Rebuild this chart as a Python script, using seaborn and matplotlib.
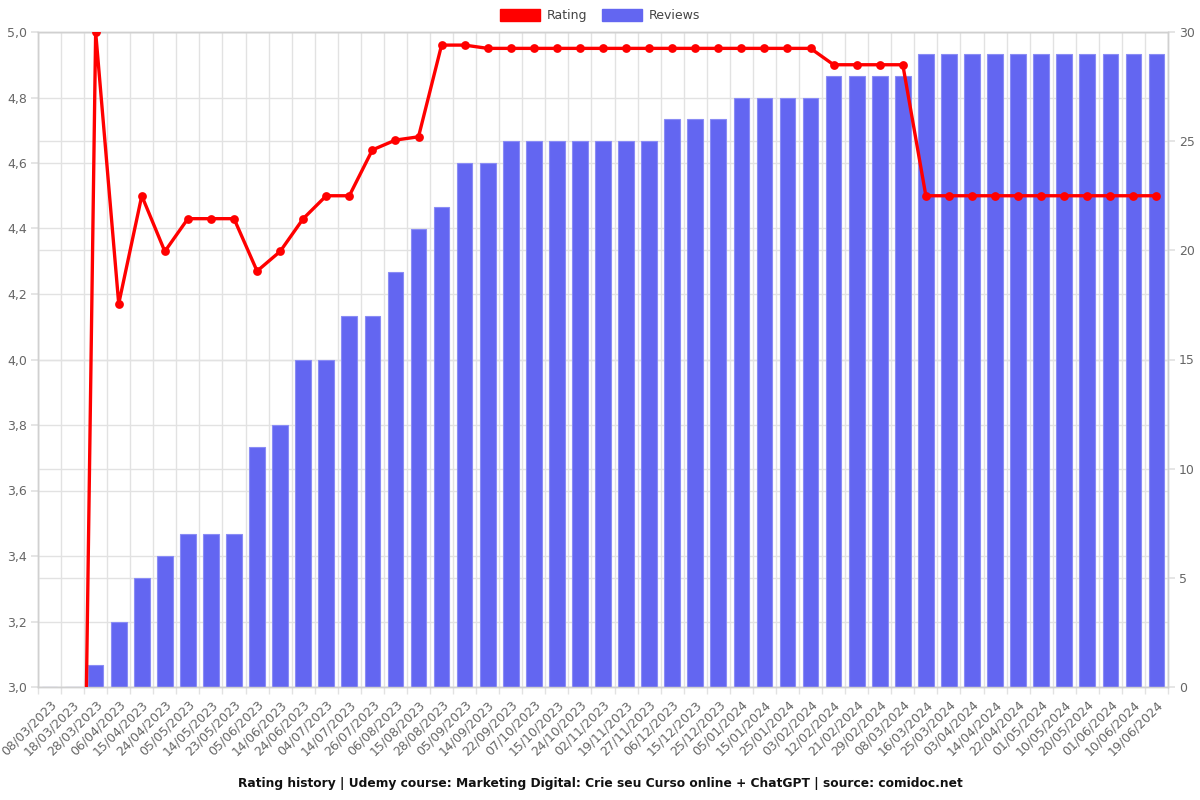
import matplotlib
matplotlib.use("Agg")
import matplotlib.pyplot as plt
import matplotlib.patches as mpatches
from matplotlib.ticker import FixedLocator, FuncFormatter
import numpy as np
import seaborn as sns

dates = ["08/03/2023", "18/03/2023", "28/03/2023", "06/04/2023", "15/04/2023", "24/04/2023",
         "05/05/2023", "14/05/2023", "23/05/2023", "05/06/2023", "14/06/2023", "24/06/2023",
         "04/07/2023", "14/07/2023", "26/07/2023", "06/08/2023", "15/08/2023", "28/08/2023",
         "05/09/2023", "14/09/2023", "22/09/2023", "07/10/2023", "15/10/2023", "24/10/2023",
         "02/11/2023", "19/11/2023", "27/11/2023", "06/12/2023", "15/12/2023", "25/12/2023",
         "05/01/2024", "15/01/2024", "25/01/2024", "03/02/2024", "12/02/2024", "21/02/2024",
         "29/02/2024", "08/03/2024", "16/03/2024", "25/03/2024", "03/04/2024", "14/04/2024",
         "22/04/2024", "01/05/2024", "10/05/2024", "20/05/2024", "01/06/2024", "10/06/2024",
         "19/06/2024"]

reviews = [0, 0, 1, 3, 5, 6, 7, 7, 7, 11, 12, 15, 15, 17, 17, 19, 21, 22, 24, 24, 25,
           25, 25, 25, 25, 25, 25, 26, 26, 26, 27, 27, 27, 27, 28, 28, 28, 28, 29, 29,
           29, 29, 29, 29, 29, 29, 29, 29, 29]

rating = [0, 0, 5.0, 4.17, 4.5, 4.33, 4.43, 4.43, 4.43, 4.27, 4.33, 4.43, 4.5, 4.5, 4.64,
          4.67, 4.68, 4.96, 4.96, 4.95, 4.95, 4.95, 4.95, 4.95, 4.95, 4.95, 4.95, 4.95,
          4.95, 4.95, 4.95, 4.95, 4.95, 4.95, 4.90, 4.90, 4.90, 4.90, 4.5, 4.5, 4.5, 4.5,
          4.5, 4.5, 4.5, 4.5, 4.5, 4.5, 4.5]

rating_ticks = [3.0, 3.2, 3.4, 3.6, 3.8, 4.0, 4.2, 4.4, 4.6, 4.8, 5.0]
review_ticks = [0, 5, 10, 15, 20, 25, 30]

title = "Rating history | Udemy course: Marketing Digital: Crie seu Curso online + ChatGPT | source: comidoc.net"

RED = "#ff0000"
BLUE = "#6366f1"
GRID = "#e2e2e2"
TXT = "#666666"

sns.set_theme(style="white")
plt.rcParams["font.family"] = ["DejaVu Sans"]

fig = plt.figure(figsize=(12, 8), dpi=100)
ax = fig.add_axes([38 / 1200, 1 - 687 / 800, (1168 - 38) / 1200, (687 - 32) / 800])
axb = ax.twinx()
axl = ax.twinx()

n = len(dates)

# bars (right axis)
sns.barplot(x=dates, y=reviews, ax=axb, color=BLUE, saturation=1, width=0.68,
            edgecolor="#8a8cf5", linewidth=0.8)
axb.set_ylim(0, 30)
axb.set_yticks(review_ticks)
axb.set_yticklabels([str(t) for t in review_ticks])
axb.grid(True, axis="y", color=GRID, linewidth=1)
axb.set_axisbelow(True)
axb.tick_params(axis="y", colors=TXT, labelsize=9, length=5, color=GRID, pad=3)
axb.set_ylabel("")

# rating line (left axis scale)
sns.pointplot(x=dates, y=rating, ax=axl, color=RED, markers="o", linewidth=2.4,
              markersize=4.5, errorbar=None)
axl.set_ylim(3.0, 5.0)
axl.set_yticks([])
axl.set_ylabel("")
for sp in axl.spines.values():
    sp.set_visible(False)

# background axis: rating ticks + grids
ax.set_ylim(3.0, 5.0)
ax.yaxis.set_major_locator(FixedLocator(rating_ticks))
ax.yaxis.set_major_formatter(FuncFormatter(lambda v, p: f"{v:.1f}".replace(".", ",")))
ax.grid(True, axis="y", color=GRID, linewidth=1)
ax.tick_params(axis="y", colors=TXT, labelsize=9, length=5, color=GRID, pad=3)

ax.set_xlim(-0.5, n - 0.5)
ax.set_xticks(np.arange(n))
ax.set_xticklabels(dates, rotation=45, ha="right", rotation_mode="anchor")
ax.set_xticks(np.arange(-0.5, n, 1), minor=True)
ax.tick_params(axis="x", which="major", length=0, colors=TXT, labelsize=9, pad=8)
ax.tick_params(axis="x", which="minor", length=5, color=GRID, bottom=True)
ax.grid(True, axis="x", which="minor", color=GRID, linewidth=1)
ax.grid(False, axis="x", which="major")
ax.set_xlabel("")
axb.set_xlabel("")
axl.set_xlabel("")

for a in (ax, axb):
    for sp in a.spines.values():
        sp.set_color("#d0d0d0")
        sp.set_linewidth(1)

handles = [mpatches.Patch(facecolor=RED, edgecolor=RED, label="Rating"),
           mpatches.Patch(facecolor=BLUE, edgecolor=BLUE, label="Reviews")]
fig.legend(handles=handles, loc="upper center", bbox_to_anchor=(0.5, 1.0), ncol=2,
           frameon=False, fontsize=9, handlelength=3.2, handleheight=1.1,
           columnspacing=1.2, handletextpad=0.5, borderaxespad=0.3,
           labelcolor="#444444")

fig.text(0.5, 1 - 783 / 800, title, ha="center", va="center", fontsize=8.8,
         fontweight="bold", color="#111111")

fig.savefig("out.png", dpi=100)
